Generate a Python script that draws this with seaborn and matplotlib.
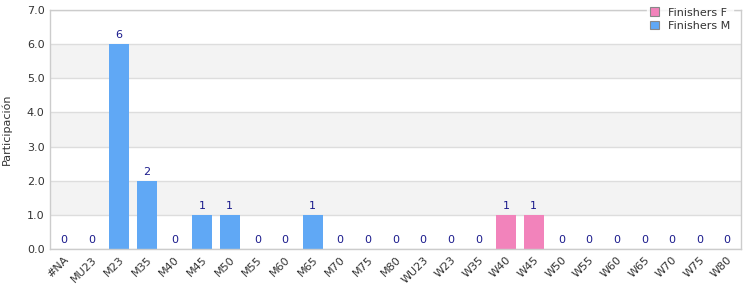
import matplotlib
matplotlib.use("Agg")
import matplotlib.pyplot as plt
import seaborn as sns
import pandas as pd
from matplotlib.patches import Rectangle

categories = ["#NA", "MU23", "M23", "M35", "M40", "M45", "M50", "M55", "M60", "M65",
              "M70", "M75", "M80", "WU23", "W23", "W35", "W40", "W45", "W50", "W55",
              "W60", "W65", "W70", "W75", "W80"]
values = [0, 0, 6, 2, 0, 1, 1, 0, 0, 1, 0, 0, 0, 0, 0, 0, 1, 1, 0, 0, 0, 0, 0, 0, 0]
series = ["Finishers M"] * 16 + ["Finishers F"] * 2 + ["Finishers M"] * 7
series_names = ["Finishers F", "Finishers M"]
colors = {"Finishers F": "#f283bb", "Finishers M": "#60a8f5"}
yticks = [0.0, 1.0, 2.0, 3.0, 4.0, 5.0, 6.0, 7.0]

df = pd.DataFrame({"cat": categories, "val": values, "series": series})

sns.set_style("white")
plt.rcParams['font.family'] = ['DejaVu Sans']
fig = plt.figure(figsize=(7.5, 3.0), dpi=100)
ax = fig.add_axes([0.0667, 0.17, 0.9213, 0.797])

# alternating bands
for i in range(7):
    if i % 2 == 1:
        ax.axhspan(i, i + 1, color="#f3f3f3", zorder=0, lw=0)
for t in yticks:
    ax.axhline(t, color="#dddddd", lw=1, zorder=0.5)

sns.barplot(data=df, x="cat", y="val", hue="series", hue_order=series_names,
            palette=colors, dodge=False, width=0.72, ax=ax, zorder=2,
            legend=False, saturation=1, linewidth=0, edgecolor="none")

for i, v in enumerate(values):
    ax.text(i, v + 0.12, str(v), ha="center", va="bottom", color="#1a1a8c",
            fontsize=8, zorder=3)

ax.set_ylim(0, 7)
ax.set_xlim(-0.5, len(categories) - 0.5)
ax.set_yticks(yticks)
ax.set_yticklabels([f"{t:.1f}" for t in yticks], fontsize=8, color="#333333")
ax.set_xticks(range(len(categories)))
ax.set_xticklabels(categories, rotation=45, ha="right", rotation_mode="anchor",
                   fontsize=8, color="#333333")
ax.tick_params(axis="both", length=0, pad=4)
ax.set_xlabel("")
ax.set_ylabel("Participación", fontsize=8, color="#333333", labelpad=11)
for s in ax.spines.values():
    s.set_color("#cccccc")
    s.set_linewidth(1)

handles = [Rectangle((0, 0), 1, 1, facecolor=colors[n], edgecolor="#888888", lw=0.8)
           for n in series_names]
leg = fig.legend(handles, series_names, loc="upper right",
                 bbox_to_anchor=(0.985, 1.005), fontsize=8, frameon=True,
                 handlelength=0.8, handleheight=0.8, handletextpad=0.8,
                 labelspacing=0.3, borderpad=0.3, fancybox=False)
leg.get_frame().set_edgecolor("white")
leg.get_frame().set_facecolor("white")
for t in leg.get_texts():
    t.set_color("#333333")

fig.savefig("out.png", dpi=100)
